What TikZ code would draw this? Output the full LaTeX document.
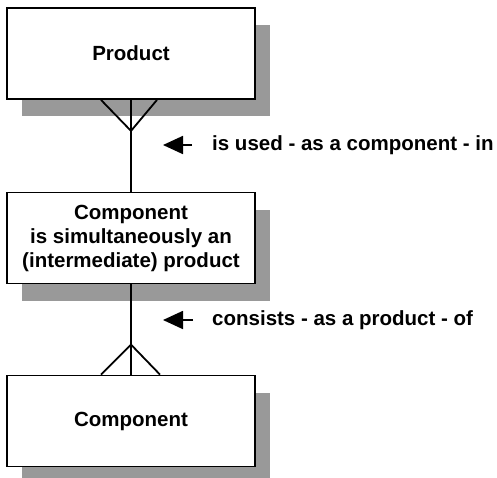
\documentclass[tikz,border=0pt]{standalone}
\usepackage{fontspec}
\setmainfont{Liberation Sans}
\usepackage{tikz}
\usetikzlibrary{arrows.meta,positioning,calc,shadows}
\definecolor{shadowgray}{RGB}{153,153,153}
\tikzset{
    entitybox/.style={draw, line width=1.8pt, fill=white, align=center, font=\fontsize{20.5}{24}\selectfont\bfseries, minimum width=248pt, minimum height=91pt, inner sep=0pt, drop shadow={shadow xshift=15pt, shadow yshift=-17pt, fill=shadowgray, opacity=1}},
    relline/.style={line width=1.8pt},
    readarrow/.style={-{Triangle[length=20pt,width=18pt]}, line width=1.8pt},
    relnote/.style={anchor=west, inner sep=0pt, font=\fontsize{20.5}{24}\selectfont\bfseries}
}

\begin{document}
\begin{tikzpicture}[x=1pt, y=-1pt]
        \useasboundingbox (0,0) rectangle (497,477);
        \node[entitybox] (product) at (131,53.5) {Product};
        \node[entitybox] (intermed) at (131,238) {Component\\is simultaneously an\\(intermediate) product};
        \node[entitybox] (component) at (131,421) {Component};
        \node[relnote] (usedin) at (212,145) {is used - as a component - in};
        \node[relnote] (consistsof) at (212,320) {consists - as a product - of};
        \coordinate (upfork) at ($(product.south)+(0,31)$);
        \coordinate (downfork) at ($(component.north)+(0,-30)$);
        \draw[relline] (product.south) -- (intermed.north);
        \draw[relline] ([xshift=-30pt]product.south) -- (upfork) -- ([xshift=26pt]product.south);
        \draw[relline] (intermed.south) -- (component.north);
        \draw[relline] ([xshift=-30pt]component.north) -- (downfork) -- ([xshift=29pt]component.north);
        \draw[readarrow] ([xshift=-20pt]usedin.west) -- ([xshift=-49pt]usedin.west);
        \draw[readarrow] ([xshift=-19pt]consistsof.west) -- ([xshift=-49pt]consistsof.west);
    \end{tikzpicture}
\end{document}
